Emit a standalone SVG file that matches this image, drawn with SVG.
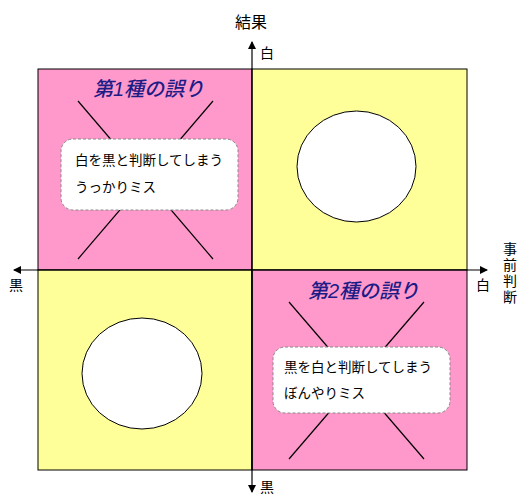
<svg xmlns="http://www.w3.org/2000/svg" width="517" height="494" viewBox="0 0 517 494">
<style>
.pink{fill:#FF99CC;stroke:#000;stroke-width:1}
.yellow{fill:#FFFF99;stroke:#000;stroke-width:1}
.circ{fill:#fff;stroke:#000;stroke-width:1}
.cross{stroke:#000;stroke-width:1.2}
.box{fill:#fff;stroke:#888;stroke-width:1;stroke-dasharray:3 2}
.t{font-family:"Liberation Sans","Noto Sans CJK JP",sans-serif;font-size:13.5px;fill:#000}
.ax{font-family:"Liberation Sans","Noto Sans CJK JP",sans-serif;font-size:14px;fill:#000}
.title{font-family:"Liberation Sans","Noto Sans CJK JP",sans-serif;font-size:20px;font-style:italic;font-weight:500;fill:#1C1C86}
.axis{stroke:#000;stroke-width:1.2;fill:none}
</style>
<defs>
<marker id="arr" markerWidth="8" markerHeight="8" refX="7" refY="4" orient="auto" markerUnits="userSpaceOnUse">
<path d="M0,0 L8,4 L0,8 Z" fill="#000"/>
</marker>
</defs>
<g id="q-top-left">
<rect class="pink" x="38" y="69" width="214" height="201"/>
<line class="cross" x1="78" y1="101" x2="213" y2="259"/>
<line class="cross" x1="213" y1="101" x2="78" y2="259"/>
<text class="title" x="93" y="96">第1種の誤り</text>
<rect class="box" x="61" y="139" width="177" height="71" rx="12"/>
<text class="t" x="75" y="165">白を黒と判断してしまう</text>
<text class="t" x="75" y="192">うっかりミス</text>
</g>
<g id="q-top-right">
<rect class="yellow" x="252" y="69" width="215" height="201"/>
<ellipse class="circ" cx="356.5" cy="166.5" rx="59.5" ry="55.5"/>
</g>
<g id="q-bottom-left">
<rect class="yellow" x="38" y="270" width="214" height="200"/>
<ellipse class="circ" cx="142" cy="373.5" rx="60" ry="55.5"/>
</g>
<g id="q-bottom-right">
<rect class="pink" x="252" y="270" width="215" height="200"/>
<line class="cross" x1="289" y1="302" x2="424" y2="459"/>
<line class="cross" x1="424" y1="302" x2="289" y2="459"/>
<text class="title" x="308" y="298">第2種の誤り</text>
<rect class="box" x="273" y="347" width="177" height="66" rx="12"/>
<text class="t" x="284" y="372">黒を白と判断してしまう</text>
<text class="t" x="284" y="398">ぼんやりミス</text>
</g>
<g id="connectors">
<line class="axis" x1="252" y1="470" x2="252" y2="42" marker-end="url(#arr)"/>
<line class="axis" x1="252" y1="270" x2="252" y2="492" marker-end="url(#arr)"/>
<line class="axis" x1="252" y1="270" x2="487" y2="270" marker-end="url(#arr)"/>
<line class="axis" x1="252" y1="270" x2="14" y2="270" marker-end="url(#arr)"/>
</g>
<g id="labels">
<text class="ax" x="235" y="28" style="font-size:16px">結果</text>
<text class="ax" x="260" y="58">白</text>
<text class="ax" x="260" y="492">黒</text>
<text class="ax" x="9" y="290">黒</text>
<text class="ax" x="476" y="290">白</text>
<text class="ax" x="503" y="254">事</text>
<text class="ax" x="503" y="270">前</text>
<text class="ax" x="503" y="286">判</text>
<text class="ax" x="503" y="302">断</text>
</g>
</svg>
